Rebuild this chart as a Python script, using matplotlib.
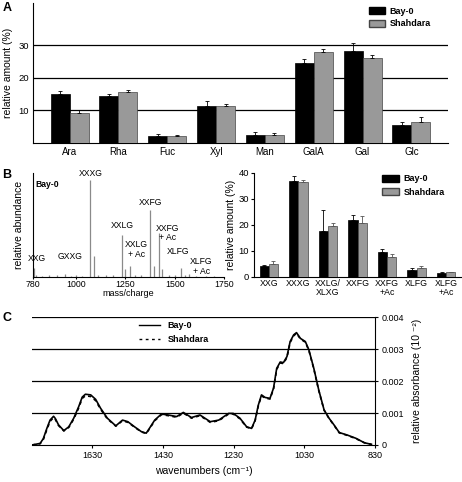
import matplotlib.pyplot as plt
from matplotlib.patches import Patch
from matplotlib.lines import Line2D
import numpy as np

plt.rcParams['font.family'] = ['Liberation Sans', 'DejaVu Sans']
plt.rcParams['axes.linewidth'] = 0.8

# A: monosaccharide composition (%)
sugars = ['Ara', 'Rha', 'Fuc', 'Xyl', 'Man', 'GalA', 'Gal', 'Glc']
sugar_bay = [14.9, 14.3, 2.1, 11.5, 2.6, 24.7, 28.3, 5.4]
sugar_bay_err = [1.1, 0.6, 0.8, 1.4, 0.7, 1.2, 2.4, 1.0]
sugar_sha = [9.2, 15.6, 2.1, 11.5, 2.6, 28.1, 26.0, 6.4]
sugar_sha_err = [0.9, 0.6, 0.5, 0.6, 0.4, 0.9, 1.1, 1.5]

# B left: mass spectrum of Bay-0 xyloglucan oligosaccharides
ms_mz = [787, 800, 830, 862, 905, 947, 975, 1000, 1030, 1073, 1090, 1110,
         1150, 1190, 1233, 1250, 1275, 1300, 1330, 1377, 1394, 1419, 1436,
         1470, 1500, 1533, 1550, 1571, 1610, 1660, 1700]
ms_int = [0.08, 0.015, 0.01, 0.015, 0.02, 0.03, 0.01, 0.015, 0.01, 0.935,
          0.20, 0.02, 0.015, 0.02, 0.40, 0.075, 0.10, 0.02, 0.015, 0.645,
          0.10, 0.42, 0.07, 0.015, 0.02, 0.08, 0.015, 0.03, 0.01, 0.01, 0.01]
ms_names = ['XXG', 'GXXG', 'XXXG', 'XXLG', 'XXLG\n+ Ac', 'XXFG', 'XXFG\n+ Ac',
            'XLFG', 'XLFG\n+ Ac']

# B right: oligosaccharide distribution (%)
xg_labels = ['XXG', 'XXXG', 'XXLG/\nXLXG', 'XXFG', 'XXFG\n+Ac', 'XLFG', 'XLFG\n+Ac']
xg_bay = [4.1, 36.9, 17.5, 21.8, 9.5, 2.7, 1.5]
xg_bay_err = [0.3, 1.8, 8.2, 2.0, 1.2, 0.5, 0.5]
xg_sha = [5.0, 36.4, 19.4, 20.6, 7.7, 3.5, 1.8]
xg_sha_err = [1.1, 0.8, 1.2, 2.6, 1.0, 0.8, 0.2]

# C: FTIR spectra
wavenumber = [1800, 1777, 1768, 1758, 1749, 1739, 1734, 1725, 1710, 1696,
              1682, 1668, 1658, 1649, 1634, 1620, 1606, 1587, 1563, 1544,
              1529, 1510, 1491, 1477, 1468, 1453, 1434, 1415, 1391, 1372,
              1349, 1325, 1296, 1272, 1244, 1231, 1212, 1193, 1179, 1169,
              1160, 1151, 1141, 1127, 1117, 1108, 1098, 1089, 1079, 1070,
              1060, 1052, 1041, 1027, 1017, 1003, 989, 974, 960, 946,
              931, 908, 884, 860, 840]
absorb_bay = [0.0, 0.00005, 0.0002, 0.00052, 0.00078, 0.0009, 0.00083,
              0.00063, 0.00045, 0.00057, 0.00084, 0.0012, 0.0015, 0.00159,
              0.00157, 0.00143, 0.00115, 0.00084, 0.0006, 0.00078, 0.00073,
              0.00057, 0.00042, 0.00037, 0.00052, 0.00078, 0.00097, 0.00094,
              0.00089, 0.00102, 0.00086, 0.00094, 0.00073, 0.00078, 0.00099,
              0.00099, 0.00084, 0.00057, 0.00052, 0.00078, 0.00125, 0.00157,
              0.00149, 0.00146, 0.00178, 0.0024, 0.0026, 0.00258, 0.00277,
              0.00324, 0.00345, 0.00352, 0.00334, 0.00324, 0.00298, 0.0024,
              0.00172, 0.0011, 0.00084, 0.00063, 0.00039, 0.00031, 0.00021,
              0.00007, 0.00002]
absorb_sha = [0.0, 0.00004, 0.00017, 0.00048, 0.00074, 0.00086, 0.0008,
              0.00061, 0.00044, 0.00055, 0.00081, 0.00116, 0.00146, 0.00154,
              0.00152, 0.00139, 0.00112, 0.00082, 0.00059, 0.00076, 0.00071,
              0.00056, 0.00041, 0.00036, 0.0005, 0.00076, 0.00095, 0.00092,
              0.00087, 0.001, 0.00084, 0.00092, 0.00071, 0.00076, 0.00097,
              0.00097, 0.00082, 0.00056, 0.00051, 0.00076, 0.00122, 0.00154,
              0.00147, 0.00144, 0.00175, 0.00237, 0.00257, 0.00255, 0.00274,
              0.00321, 0.00342, 0.0035, 0.00332, 0.00322, 0.00296, 0.00238,
              0.0017, 0.00109, 0.00083, 0.00062, 0.00038, 0.0003, 0.0002,
              0.00007, 0.00002]

W, H = 462, 482
fig = plt.figure(figsize=(W / 100, H / 100), dpi=100)


def box(x0, y0, x1, y1):
    return [x0 / W, 1 - y1 / H, (x1 - x0) / W, (y1 - y0) / H]


tick_fs = 6.3
lab_fs = 7.5
leg_fs = 6.5
grey = '#999999'

# ---------------- A ----------------
axA = fig.add_axes(box(33, 3, 448, 143))
xa = np.arange(len(sugars))
bw = 0.39
axA.bar(xa - bw / 2, sugar_bay, bw, color='black', edgecolor='black', lw=0.5, zorder=3)
axA.bar(xa + bw / 2, sugar_sha, bw, color=grey, edgecolor='#444444', lw=0.5, zorder=3)
axA.errorbar(xa - bw / 2, sugar_bay, yerr=[np.zeros(len(xa)), sugar_bay_err],
             fmt='none', ecolor='black', elinewidth=0.6, capsize=1.5, capthick=0.6, zorder=4)
axA.errorbar(xa + bw / 2, sugar_sha, yerr=[np.zeros(len(xa)), sugar_sha_err],
             fmt='none', ecolor='black', elinewidth=0.6, capsize=1.5, capthick=0.6, zorder=4)
for v in [10, 20, 30]:
    axA.axhline(v, color='black', lw=0.9, zorder=1)
axA.set_xlim(-0.75, len(sugars) - 0.25)
axA.set_ylim(0, 43)
axA.set_xticks(xa)
axA.set_xticklabels(sugars, fontsize=7)
axA.set_yticks([10, 20, 30])
axA.tick_params(axis='both', length=0, pad=3)
axA.tick_params(axis='y', labelsize=6.8)
axA.spines['top'].set_visible(False)
axA.spines['right'].set_visible(False)
axA.set_ylabel('relative amount (%)', fontsize=lab_fs, labelpad=4)
axA.legend(handles=[Patch(facecolor='black', edgecolor='black', label='Bay-0'),
                    Patch(facecolor=grey, edgecolor='#444444', label='Shahdara')],
           loc='upper left', bbox_to_anchor=(0.8, 1.0), frameon=False,
           prop={'size': leg_fs, 'weight': 'bold'}, handlelength=1.8,
           handleheight=0.8, handletextpad=0.5, labelspacing=0.4, borderaxespad=0)

# ---------------- B left ----------------
axM = fig.add_axes(box(32.5, 173, 224, 276.7))
axM.vlines(ms_mz, 0, ms_int, color='#8a8a8a', lw=0.9)
axM.set_xlim(780, 1750)
axM.set_ylim(0, 1)
axM.set_xticks([780, 1000, 1250, 1500, 1750])
axM.set_yticks([])
axM.tick_params(axis='x', length=1.5, labelsize=tick_fs, pad=1)
axM.spines['top'].set_visible(False)
axM.spines['right'].set_visible(False)
axM.set_xlabel('mass/charge', fontsize=6.5, labelpad=0)
axM.set_ylabel('relative abundance', fontsize=lab_fs, labelpad=6)
label_pos = [(805, 0.18), (970, 0.19), (1073, 1.0), (1233, 0.49), (1306, 0.26),
             (1377, 0.72), (1462, 0.42), (1517, 0.24), (1636, 0.10)]
for name, (px, py) in zip(ms_names, label_pos):
    axM.text(px, py, name, fontsize=6.2, ha='center', va='center', linespacing=1.1)
axM.text(795, 0.89, 'Bay-0', fontsize=6.2, fontweight='bold', ha='left', va='center')

# ---------------- B right ----------------
axB = fig.add_axes(box(254, 172.7, 461, 276.7))
xb = np.arange(len(xg_labels))
bw2 = 0.31
axB.bar(xb - bw2 / 2, xg_bay, bw2, color='black', edgecolor='black', lw=0.5, zorder=3)
axB.bar(xb + bw2 / 2, xg_sha, bw2, color=grey, edgecolor='#444444', lw=0.5, zorder=3)
axB.errorbar(xb - bw2 / 2, xg_bay, yerr=[np.zeros(len(xb)), xg_bay_err],
             fmt='none', ecolor='black', elinewidth=0.6, capsize=1.5, capthick=0.6, zorder=4)
axB.errorbar(xb + bw2 / 2, xg_sha, yerr=[np.zeros(len(xb)), xg_sha_err],
             fmt='none', ecolor='#555555', elinewidth=0.6, capsize=1.5, capthick=0.6, zorder=4)
axB.set_xlim(-0.5, len(xg_labels) - 0.5)
axB.set_ylim(0, 40)
axB.set_xticks(xb)
axB.set_xticklabels(xg_labels, fontsize=tick_fs, linespacing=1.0)
axB.set_yticks([0, 10, 20, 30, 40])
axB.tick_params(axis='x', length=0, pad=2)
axB.tick_params(axis='y', length=2.5, labelsize=6.8, pad=1)
axB.spines['top'].set_visible(False)
axB.spines['right'].set_visible(False)
axB.set_ylabel('relative amount (%)', fontsize=lab_fs, labelpad=2)
axB.legend(handles=[Patch(facecolor='black', edgecolor='black', label='Bay-0'),
                    Patch(facecolor=grey, edgecolor='#444444', label='Shahdara')],
           loc='upper left', bbox_to_anchor=(0.6, 1.02), frameon=False,
           prop={'size': leg_fs, 'weight': 'bold'}, handlelength=1.9,
           handleheight=0.8, handletextpad=0.5, labelspacing=0.5, borderaxespad=0)

# ---------------- C ----------------
axC = fig.add_axes(box(32, 317.3, 375, 445))
for v in [0.001, 0.002, 0.003, 0.004]:
    axC.axhline(v, color='black', lw=0.9, zorder=1)
axC.plot(wavenumber, absorb_bay, color='black', lw=1.2, label='Bay-0', zorder=3)
axC.plot(wavenumber, absorb_sha, color='black', lw=1.2, ls=(0, (2, 2)),
         label='Shahdara', zorder=4)
axC.set_xlim(1800, 830)
axC.set_ylim(0, 0.004)
axC.set_xticks([1630, 1430, 1230, 1030, 830])
axC.set_yticks([0, 0.001, 0.002, 0.003, 0.004])
axC.set_yticklabels(['0', '0.001', '0.002', '0.003', '0.004'])
axC.yaxis.tick_right()
axC.yaxis.set_label_position('right')
axC.tick_params(axis='both', length=2.5, labelsize=6.5, pad=2)
for s in ['top', 'left']:
    axC.spines[s].set_visible(False)
axC.set_xlabel('wavenumbers (cm\u207b\u00b9)', fontsize=lab_fs, labelpad=4)
axC.set_ylabel('relative absorbance (10 \u207b\u00b2)', fontsize=lab_fs, labelpad=6)
axC.legend(handles=[Line2D([], [], color='black', lw=1.0, label='Bay-0'),
                    Line2D([], [], color='black', lw=1.0, ls=(0, (2, 2.5)), label='Shahdara')],
           loc='upper left', bbox_to_anchor=(0.3, 1.0), frameon=False,
           prop={'size': leg_fs, 'weight': 'bold'}, handlelength=2.4,
           handletextpad=0.8, labelspacing=0.6, borderaxespad=0)

for letter, fx, fy in [('A', 7, 8), ('B', 7, 175), ('C', 7, 318)]:
    fig.text(fx / W, 1 - fy / H, letter, fontsize=9, fontweight='bold',
             ha='center', va='center')

fig.savefig('out.png', dpi=100)
